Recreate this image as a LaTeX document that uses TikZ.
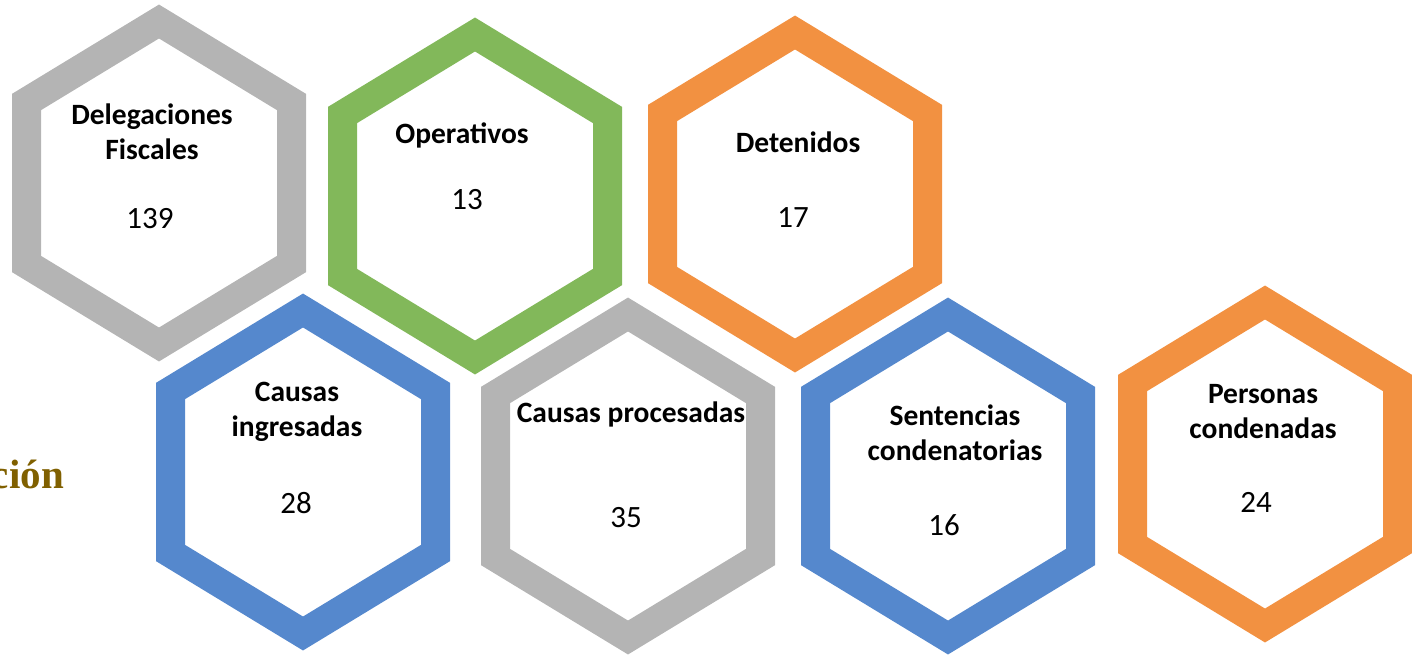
\documentclass[tikz,border=0pt]{standalone}
\usepackage{fontspec}
\setmainfont{Carlito}
\newfontfamily\titlefont{Liberation Serif}

\definecolor{ringgray}{RGB}{180,180,180}
\definecolor{ringgreen}{RGB}{130,184,90}
\definecolor{ringorange}{RGB}{242,145,65}
\definecolor{ringblue}{RGB}{85,136,205}
\definecolor{titlegold}{RGB}{128,96,0}

\newcommand{\labelfont}{\bfseries\fontsize{29.5}{34.5}\selectfont}
\newcommand{\valuefont}{\fontsize{31}{36}\selectfont}

\tikzset{
  hexring/.style={line width=29pt, line join=miter},
  hexlabel/.style={font=\labelfont, align=center, inner sep=0pt, anchor=base},
  hexvalue/.style={font=\valuefont, inner sep=0pt, anchor=base}
}

\begin{document}
\begin{tikzpicture}[x=1pt, y=-1pt]
\useasboundingbox (0, 0) rectangle (1412, 654);

% hexagon rings
\foreach \cx/\cy/\col in {159/183/ringgray, 475/196/ringgreen, 795/194/ringorange,
    303/472/ringblue, 628/476/ringgray, 948/476/ringblue, 1265/464/ringorange}
  \draw[hexring, draw=\col, shift={(\cx, \cy)}]
    (0, -161.5) -- (132.5, -81) -- (132.5, 81) -- (0, 161.5)
    -- (-132.5, 81) -- (-132.5, -81) -- cycle;

% labels and values (base = last line)
\node[hexlabel] (deleg) at (152, 159) {Delegaciones\\Fiscales};
\node[hexvalue] (delegval) at (150, 228) {139};

\node[hexlabel] (oper) at (462, 143) {Operativos};
\node[hexvalue] (operval) at (467, 209) {13};

\node[hexlabel] (deten) at (798, 152) {Detenidos};
\node[hexvalue] (detenval) at (793, 227) {17};

\node[hexlabel] (ingres) at (297, 436) {Causas\\ingresadas};
\node[hexvalue] (ingresval) at (296, 513) {28};

\node[hexlabel] (proces) at (631, 422) {Causas procesadas};
\node[hexvalue] (procesval) at (626, 527) {35};

\node[hexlabel] (senten) at (955, 460) {Sentencias\\condenatorias};
\node[hexvalue] (sentenval) at (944, 535) {16};

\node[hexlabel] (person) at (1263, 438) {Personas\\condenadas};
\node[hexvalue] (personval) at (1256, 512) {24};

% cut title at the left edge
\node[font=\titlefont\bfseries\fontsize{41}{48}\selectfont, text=titlegold,
  inner sep=0pt, anchor=base east] (title) at (64, 488) {ción};
\end{tikzpicture}
\end{document}
